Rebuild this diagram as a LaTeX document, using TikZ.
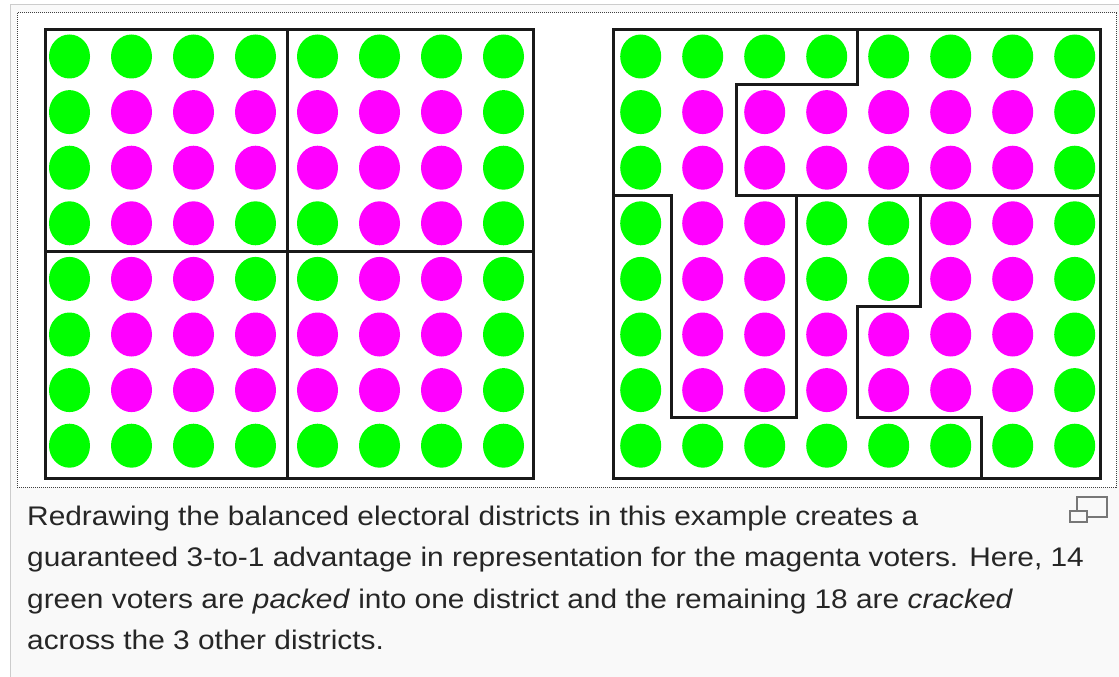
\documentclass[tikz,border=0pt]{standalone}
\usepackage{fontspec}
\setmainfont{Liberation Sans}[FakeStretch=1.11]
\definecolor{voteg}{HTML}{00FF00}
\definecolor{votem}{HTML}{FF00FF}
\definecolor{boxbg}{HTML}{F9F9F9}
\definecolor{boxborder}{HTML}{CCCCCC}
\definecolor{iconcol}{HTML}{777777}
\tikzset{
  border/.style={line width=3pt, line join=miter, draw=black!90},
  dotframe/.style={draw=black!75, line width=1pt, dash pattern=on 1pt off 1pt},
  captext/.style={anchor=base west, inner sep=0pt, text=black!85, font=\fontsize{26.9}{30}\selectfont},
  voter/.style={x radius=20.5pt, y radius=22pt},
}
\begin{document}
\begin{tikzpicture}[x=1pt,y=-1pt]
\useasboundingbox (0,0) rectangle (1119,677);
\fill[white] (0,0) rectangle (1119,677);
% outer caption box
\draw[fill=boxbg, draw=boxborder, line width=1pt] (10.5,4.5) rectangle (1130,690);
% image area
\fill[white] (17,13) rectangle (1116,487);
\draw[dotframe] (17,13) rectangle (1116,487);
% voters
\foreach \r in {0,...,7}{
  \foreach \c in {0,...,7}{
    \pgfmathtruncatemacro\m{(\r>0)*(\r<7)*(\c>0)*(\c<7)*(1-(\r>2)*(\r<5)*(\c>2)*(\c<5))}
    \ifnum\m=1 \def\vc{votem}\else\def\vc{voteg}\fi
    \fill[\vc] (69.5+62*\c, 56.5+55.6*\r) ellipse [voter];
    \fill[\vc] (640.7+62*\c, 56.5+55.6*\r) ellipse [voter];
  }
}
% left map: four balanced districts
\draw[border] (45,30) rectangle (533,478);
\draw[border] (287,30) -- (287,478);
\draw[border] (45,251) -- (533,251);
% right map: gerrymandered districts
\draw[border] (613,30) rectangle (1100,478);
\draw[border] (857,30) -- (857,84.3) -- (736.5,84.3) -- (736.5,195.5) -- (1100,195.5);
\draw[border] (613,195.5) -- (671.7,195.5) -- (671.7,417.5) -- (796,417.5) -- (796,195.5);
\draw[border] (920.5,195.5) -- (920.5,306.5) -- (857.3,306.5) -- (857.3,417.5) -- (981.5,417.5) -- (981.5,478);
% enlarge icon
\draw[iconcol, line width=1.6pt] (1077,497) rectangle (1107,517);
\draw[iconcol, fill=boxbg, line width=1.6pt] (1070,511) rectangle (1087,522);
% caption
\node[captext] (l1) at (27,525) {Redrawing the balanced electoral districts in this example creates a};
\node[captext] (l2) at (27,566.5) {guaranteed 3-to-1 advantage in representation for the magenta voters. Here, 14};
\node[captext] (l3) at (27,608) {green voters are \textit{packed} into one district and the remaining 18 are \textit{cracked}};
\node[captext] (l4) at (27,649.5) {across the 3 other districts.};
\end{tikzpicture}
\end{document}
